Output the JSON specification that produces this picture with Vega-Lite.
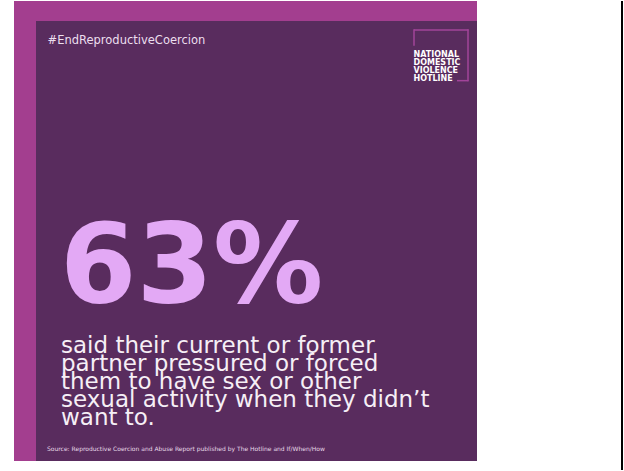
{
  "$schema": "https://vega.github.io/schema/vega-lite/v6.json",
  "width": 624,
  "height": 471,
  "autosize": {"type": "fit", "contains": "padding"},
  "padding": 0,
  "background": "#ffffff",
  "config": {"view": {"stroke": null}},
  "datasets": {
    "stat": [
      {"share": 0.63, "statement": "said their current or former\npartner pressured or forced\nthem to have sex or other\nsexual activity when they didn’t\nwant to."}
    ],
    "texts": [
      {"role": "hashtag", "text": "#EndReproductiveCoercion"},
      {"role": "logo", "text": "NATIONAL\nDOMESTIC\nVIOLENCE\nHOTLINE"},
      {"role": "source", "text": "Source: Reproductive Coercion and Abuse Report published by The Hotline and If/When/How"}
    ]
  },
  "data": {"values": [{"shape": "panel"}]},
  "layer": [
    {
      "mark": {"type": "rect", "color": "#a33e8f"},
      "encoding": {
        "x": {"datum": 14, "type": "quantitative", "scale": {"domain": [0, 624], "nice": false, "zero": false}, "axis": null},
        "x2": {"datum": 477},
        "y": {"datum": 0, "type": "quantitative", "scale": {"domain": [0, 471], "nice": false, "zero": false, "reverse": true}, "axis": null},
        "y2": {"datum": 462}
      }
    },
    {
      "mark": {"type": "rect", "color": "#592c5e"},
      "encoding": {
        "x": {"datum": 36, "type": "quantitative", "axis": null},
        "x2": {"datum": 477},
        "y": {"datum": 20, "type": "quantitative", "axis": null},
        "y2": {"datum": 462}
      }
    },
    {
      "mark": {"type": "rule", "color": "#000000", "strokeWidth": 2},
      "encoding": {
        "x": {"datum": 622, "type": "quantitative", "axis": null},
        "y": {"datum": 0, "type": "quantitative", "axis": null},
        "y2": {"datum": 471}
      }
    },
    {
      "mark": {"type": "rule", "color": "#a2449a", "strokeWidth": 1.5},
      "encoding": {
        "x": {"datum": 414, "type": "quantitative", "axis": null},
        "x2": {"datum": 468.5},
        "y": {"datum": 29, "type": "quantitative", "axis": null}
      }
    },
    {
      "mark": {"type": "rule", "color": "#a2449a", "strokeWidth": 1.5},
      "encoding": {
        "x": {"datum": 414, "type": "quantitative", "axis": null},
        "y": {"datum": 28.3, "type": "quantitative", "axis": null},
        "y2": {"datum": 45}
      }
    },
    {
      "mark": {"type": "rule", "color": "#a2449a", "strokeWidth": 1.5},
      "encoding": {
        "x": {"datum": 468, "type": "quantitative", "axis": null},
        "y": {"datum": 28.3, "type": "quantitative", "axis": null},
        "y2": {"datum": 80.5}
      }
    },
    {
      "mark": {"type": "rule", "color": "#a2449a", "strokeWidth": 1.5},
      "encoding": {
        "x": {"datum": 457, "type": "quantitative", "axis": null},
        "x2": {"datum": 468.5},
        "y": {"datum": 80, "type": "quantitative", "axis": null}
      }
    },
    {
      "data": {"name": "texts"},
      "transform": [{"filter": "datum.role === 'logo'"}],
      "mark": {"type": "text", "align": "left", "baseline": "alphabetic", "font": "DejaVu Sans", "fontWeight": "bold", "fontSize": 8, "lineBreak": "\n", "lineHeight": 8, "color": "#ffffff"},
      "encoding": {
        "x": {"datum": 413.5, "type": "quantitative", "axis": null},
        "y": {"datum": 56.5, "type": "quantitative", "axis": null},
        "text": {"field": "text", "type": "nominal"}
      }
    },
    {
      "data": {"name": "texts"},
      "transform": [{"filter": "datum.role === 'hashtag'"}],
      "mark": {"type": "text", "align": "left", "baseline": "alphabetic", "font": "DejaVu Sans", "fontSize": 11.5, "color": "#ecdfee"},
      "encoding": {
        "x": {"datum": 47.5, "type": "quantitative", "axis": null},
        "y": {"datum": 43, "type": "quantitative", "axis": null},
        "text": {"field": "text", "type": "nominal"}
      }
    },
    {
      "data": {"name": "texts"},
      "transform": [{"filter": "datum.role === 'source'"}],
      "mark": {"type": "text", "align": "left", "baseline": "alphabetic", "font": "DejaVu Sans", "fontSize": 6, "color": "#e6dae8"},
      "encoding": {
        "x": {"datum": 47, "type": "quantitative", "axis": null},
        "y": {"datum": 452, "type": "quantitative", "axis": null},
        "text": {"field": "text", "type": "nominal"}
      }
    },
    {
      "data": {"name": "stat"},
      "mark": {"type": "text", "align": "left", "baseline": "alphabetic", "font": "DejaVu Sans", "fontWeight": "bold", "fontSize": 110, "color": "#e3a9f5"},
      "encoding": {
        "x": {"datum": 60, "type": "quantitative", "axis": null},
        "y": {"datum": 302, "type": "quantitative", "axis": null},
        "text": {"field": "share", "type": "quantitative", "format": ".0%"}
      }
    },
    {
      "data": {"name": "stat"},
      "mark": {"type": "text", "align": "left", "baseline": "alphabetic", "font": "DejaVu Sans", "fontSize": 23, "lineBreak": "\n", "lineHeight": 18, "color": "#f6eff6"},
      "encoding": {
        "x": {"datum": 61, "type": "quantitative", "axis": null},
        "y": {"datum": 353, "type": "quantitative", "axis": null},
        "text": {"field": "statement", "type": "nominal"}
      }
    }
  ]
}
